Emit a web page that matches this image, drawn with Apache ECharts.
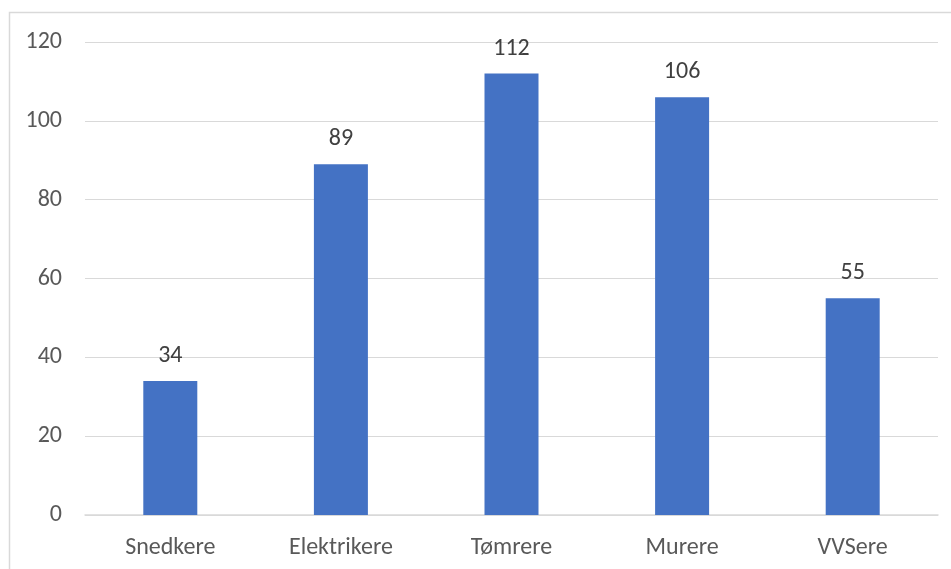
<!DOCTYPE html>
<html>
<head>
<meta charset="utf-8">
<script src="https://cdn.jsdelivr.net/npm/echarts@6/dist/echarts.min.js"></script>
<style>
  html, body { margin: 0; padding: 0; background: #fff; }
  #chart { width: 951px; height: 569px; }
</style>
</head>
<body>
<div id="chart"></div>
<script>
// Trade categories and counts
const categories = ['Snedkere', 'Elektrikere', 'Tømrere', 'Murere', 'VVSere'];
const counts = [34, 89, 112, 106, 55];
const yTicks = { min: 0, max: 120, interval: 20 };

const textColor = '#595959';
const fontFamily = 'Carlito, Calibri, "Open Sans", "Liberation Sans", sans-serif';
const fontSize = 24;

const chart = echarts.init(document.getElementById('chart'), null, { renderer: 'canvas' });
chart.setOption({
  backgroundColor: '#ffffff',
  animation: false,
  graphic: [{
    type: 'rect',
    shape: { x: 9.5, y: 12.5, width: 980, height: 600 },
    style: { fill: 'none', stroke: '#d9d9d9', lineWidth: 1.5 },
    silent: true
  }],
  grid: { left: 85, right: 13, top: 42, bottom: 54 },
  xAxis: {
    type: 'category',
    data: categories,
    axisLine: { show: true, lineStyle: { color: '#d9d9d9', width: 1.5 } },
    axisTick: { show: false },
    axisLabel: { color: textColor, fontSize: fontSize, fontFamily: fontFamily, margin: 21 }
  },
  yAxis: {
    type: 'value',
    min: yTicks.min,
    max: yTicks.max,
    interval: yTicks.interval,
    axisLine: { show: false },
    axisTick: { show: false },
    splitLine: { lineStyle: { color: '#d9d9d9', width: 1.2 } },
    axisLabel: { color: textColor, fontSize: fontSize, fontFamily: fontFamily, margin: 23 }
  },
  series: [{
    type: 'bar',
    data: counts,
    barWidth: 54,
    itemStyle: { color: '#4472c4' },
    label: {
      show: true,
      position: 'top',
      distance: 13,
      color: '#404040',
      fontSize: fontSize,
      fontFamily: fontFamily
    }
  }]
});
</script>
</body>
</html>
